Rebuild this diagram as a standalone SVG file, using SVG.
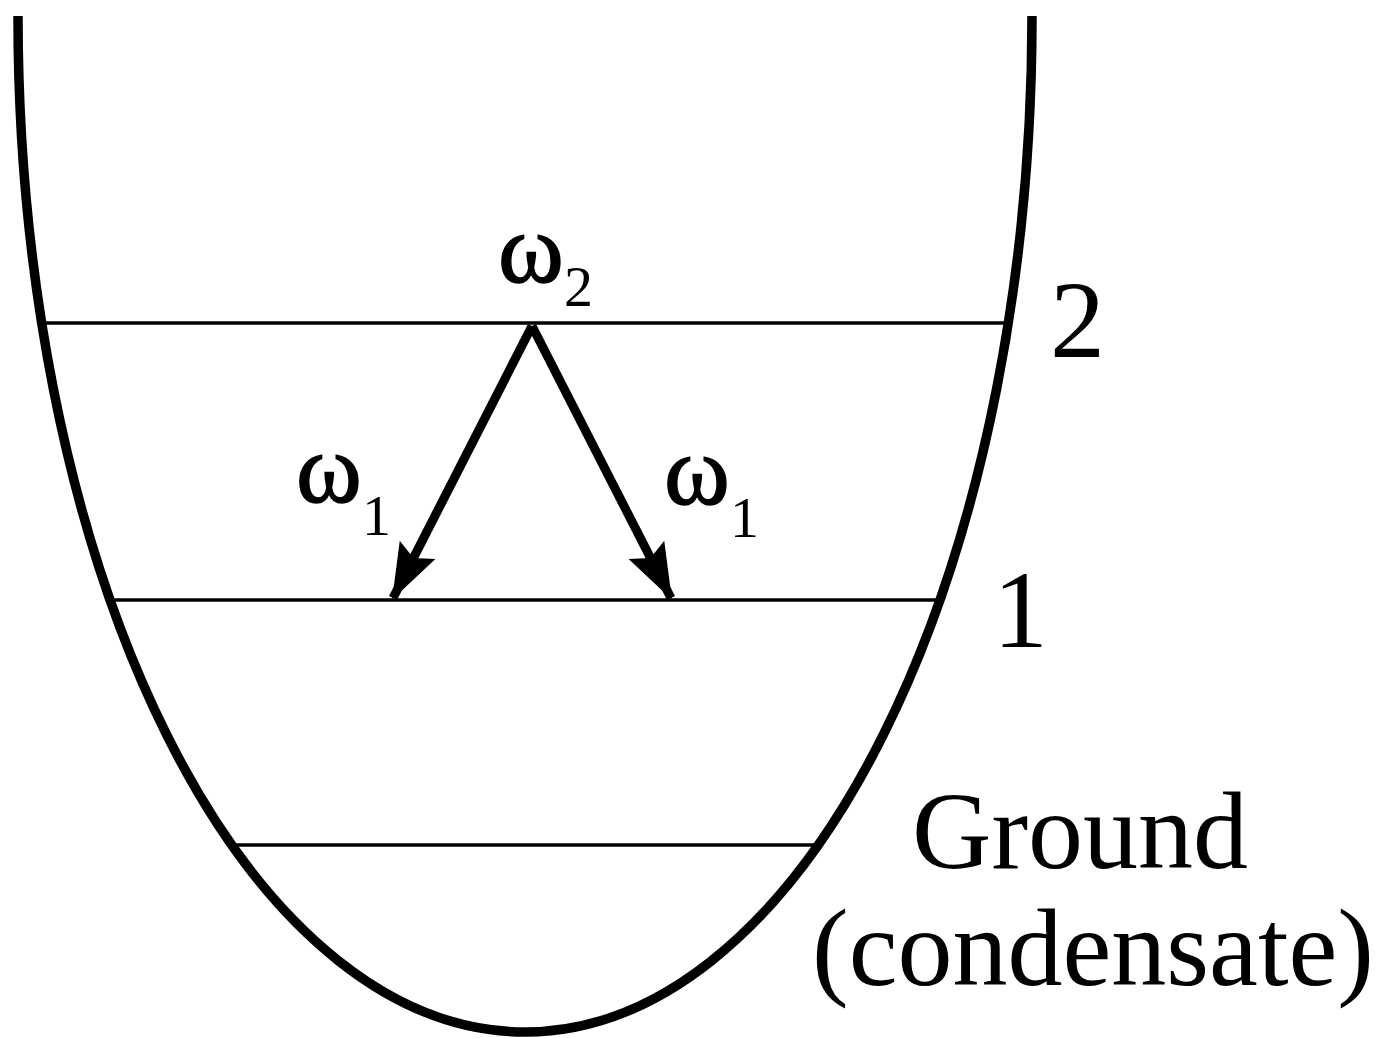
<svg xmlns="http://www.w3.org/2000/svg" width="1385" height="1038" viewBox="0 0 1385 1038">
<style>
.lvl{stroke:#000;stroke-width:3.5;fill:none}
.arr{stroke:#000;stroke-width:9;fill:none}
.t{font-family:"Liberation Serif","Times New Roman",serif;fill:#000}
.big{font-size:110px}
.om{font-size:100px;stroke:#000;stroke-width:1.5}
.sub{font-size:58px}
</style>
<defs>
<marker id="ah" viewBox="0 0 56 44" refX="54" refY="22" markerWidth="56" markerHeight="44" markerUnits="userSpaceOnUse" orient="auto">
<path d="M0,2 L56,22 L0,42 L9,22 Z" fill="#000"/>
</marker>
</defs>
<rect width="1385" height="1038" fill="#fff"/>
<g id="well">
<path d="M18,16 A507,1016 0 0 0 1032,16" stroke="#000" stroke-width="9.5" fill="none"/>
</g>
<g id="level2"><line class="lvl" x1="46" y1="323" x2="1006" y2="323"/></g>
<g id="level1"><line class="lvl" x1="112" y1="600" x2="940" y2="600"/></g>
<g id="level0"><line class="lvl" x1="233" y1="845" x2="818" y2="845"/></g>
<g id="connectors">
<line class="arr" x1="532" y1="326" x2="393" y2="598" marker-end="url(#ah)"/>
<line class="arr" x1="532" y1="326" x2="671" y2="598" marker-end="url(#ah)"/>
</g>
<g id="labels">
<text class="t om" x="498" y="282">ω</text>
<text class="t sub" x="564" y="306">2</text>
<text class="t om" x="296" y="502">ω</text>
<text class="t sub" x="362" y="535">1</text>
<text class="t om" x="664" y="504">ω</text>
<text class="t sub" x="730" y="537">1</text>
<text class="t big" x="1050" y="357">2</text>
<text class="t big" x="993" y="647">1</text>
<text class="t big" x="912" y="868">Ground</text>
<text class="t big" x="812" y="985">(condensate)</text>
</g>
</svg>
